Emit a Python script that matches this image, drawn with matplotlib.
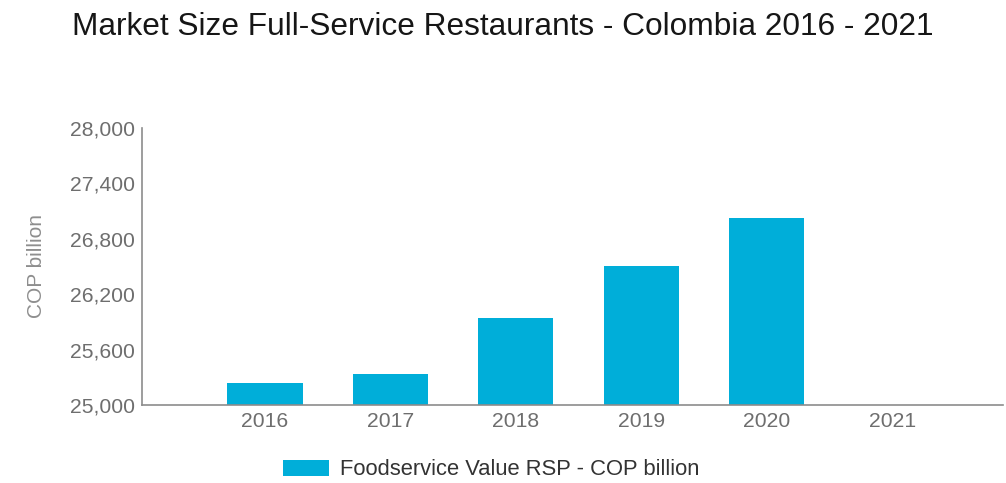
import numpy as np
import matplotlib
matplotlib.use("Agg")
import matplotlib.pyplot as plt

plt.rcParams['font.family'] = ['Liberation Sans', 'DejaVu Sans']

years = ["2016", "2017", "2018", "2019", "2020", "2021"]
values = [25241, 25336, 25945, 26505, 27022, np.nan]  # 2021 not reported
y_ticks = [25000, 25600, 26200, 26800, 27400, 28000]
series_name = "Foodservice Value RSP - COP billion"
title = "Market Size Full-Service Restaurants - Colombia 2016 - 2021"

bar_color = "#00aed9"
axis_color = "#8c8c8c"
tick_color = "#6e6e6e"

fig = plt.figure(figsize=(10.06, 4.83), dpi=100)
ax = fig.add_axes([0.1412, 0.1615, 0.856, 0.5735])

x = np.arange(len(years))
ax.bar(x, values, width=0.6, color=bar_color, label=series_name, zorder=2)

ax.set_ylim(25000, 28000)
ax.set_yticks(y_ticks)
ax.set_yticklabels([f"{v:,}" for v in y_ticks])
ax.set_xlim(-0.98, 5.885)
ax.set_xticks(x)
ax.set_xticklabels(years)

for side in ("top", "right"):
    ax.spines[side].set_visible(False)
for side in ("left", "bottom"):
    ax.spines[side].set_color(axis_color)
    ax.spines[side].set_linewidth(1.2)

ax.tick_params(axis="y", length=0, labelsize=15.2, labelcolor=tick_color, pad=5)
ax.tick_params(axis="x", length=0, labelsize=15.2, labelcolor=tick_color, pad=5)

ax.set_ylabel("COP billion", fontsize=15, color="#8e8e8e")
ax.yaxis.set_label_coords(-0.112, 0.5)

fig.text(0.5, 1 - 35 / 483, title, ha="center", va="baseline",
         fontsize=22.8, color="#161616")

leg = fig.legend(loc="center", bbox_to_anchor=(0.488, 0.027), frameon=False,
                 fontsize=15.8, handlelength=2.1, handleheight=0.74,
                 handletextpad=0.5)
for t in leg.get_texts():
    t.set_color("#333333")

fig.savefig("out.png", dpi=100, facecolor="white")
